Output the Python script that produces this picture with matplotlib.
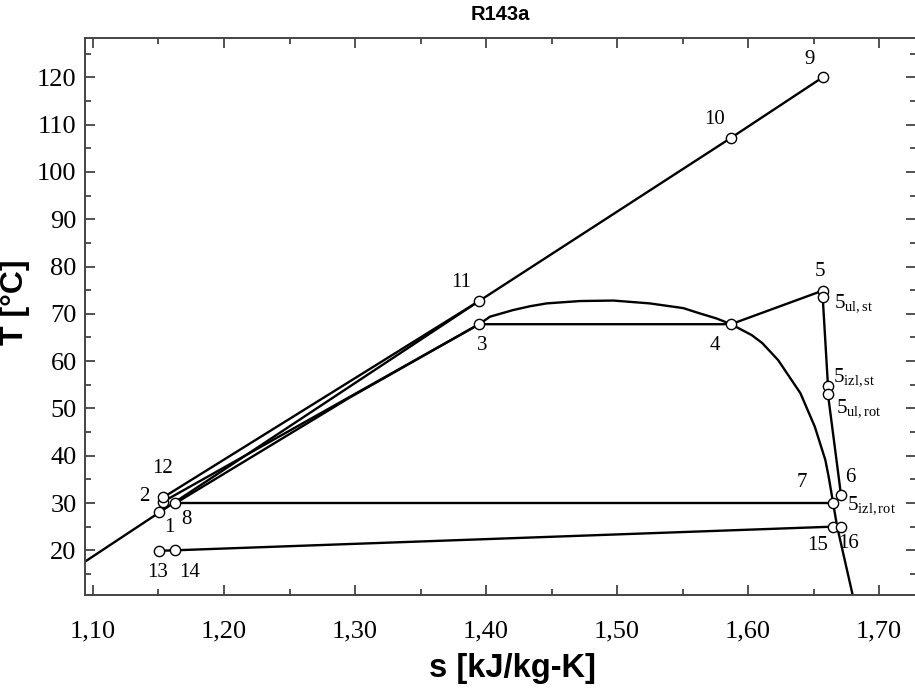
import numpy as np
import matplotlib
matplotlib.use("Agg")
import matplotlib.pyplot as plt
from matplotlib.ticker import MultipleLocator, FuncFormatter

plt.rcParams['mathtext.fontset'] = 'custom'
plt.rcParams['mathtext.rm'] = 'Liberation Serif'
plt.rcParams['mathtext.it'] = 'Liberation Serif:italic'

# saturation dome (from 3 over the top down to below the axis)
dome_s = [1.3947, 1.4031, 1.4208, 1.4336, 1.4463, 1.4718, 1.4972, 1.525,
          1.5506, 1.563, 1.5761, 1.587, 1.6028, 1.6109, 1.6230, 1.6400,
          1.6510, 1.6590, 1.6615, 1.6650, 1.668, 1.679, 1.6808]
dome_T = [67.8, 69.4, 70.8, 71.6, 72.2, 72.7, 72.8, 72.2,
          71.2, 70.1, 69.0, 67.8, 65.5, 63.8, 60.2, 53.2,
          46.1, 39.1, 35.6, 29.9, 25.0, 11.6, 9.4]

# heat source line (from axis edge up to 9)
src_s = [1.0939, 1.1506, 1.3947, 1.587, 1.657]
src_T = [17.6, 28.0, 72.7, 107.2, 120.0]

# other cycle lines
l12_s = [1.1537, 1.3947]
l12_T = [31.2, 72.7]
l2_s = [1.1537, 1.3947]
l2_T = [30.3, 67.8]
liq_s = [1.1626, 1.296, 1.3947]
liq_T = [29.9, 52.3, 67.8]
evap_s = [1.3947, 1.587, 1.657]
evap_T = [67.8, 67.8, 74.9]
exp_s = [1.657, 1.661, 1.661, 1.671]
exp_T = [73.5, 54.8, 53.0, 31.6]
cond_s = [1.1626, 1.665]
cond_T = [29.9, 29.9]
cool_s = [1.1506, 1.1626, 1.665, 1.671]
cool_T = [19.9, 20.0, 25.0, 25.0]

# state points (markers)
pt_s = [1.1506, 1.1537, 1.3947, 1.587, 1.657, 1.657, 1.661, 1.661, 1.671,
        1.665, 1.1626, 1.657, 1.587, 1.3947, 1.1537, 1.1506, 1.1626, 1.665, 1.671]
pt_T = [28.0, 30.3, 67.8, 67.8, 74.9, 73.5, 54.8, 53.0, 31.6,
        29.9, 29.9, 120.0, 107.2, 72.7, 31.2, 19.9, 20.0, 25.0, 25.0]

# labels: text, s, T, horizontal alignment
labels = [
    ("9", 1.647, 123.7, "center"), ("10", 1.5748, 111.0, "center"),
    ("11", 1.381, 76.7, "center"), ("3", 1.397, 63.4, "center"),
    ("4", 1.5748, 63.4, "center"), ("5", 1.655, 78.9, "center"),
    (r"$\mathregular{5_{ul,st}}$", 1.6655, 72.2, "left"),
    (r"$\mathregular{5_{izl,st}}$", 1.6652, 56.6, "left"),
    (r"$\mathregular{5_{ul,rot}}$", 1.6675, 50.0, "left"),
    ("6", 1.678, 35.3, "center"), ("7", 1.641, 34.3, "center"),
    (r"$\mathregular{5_{izl,rot}}$", 1.6752, 29.6, "left"),
    ("15", 1.653, 21.1, "center"), ("16", 1.677, 21.5, "center"),
    ("12", 1.1534, 37.4, "center"), ("2", 1.139, 31.3, "center"),
    ("1", 1.158, 24.9, "center"), ("8", 1.171, 26.6, "center"),
    ("13", 1.149, 15.4, "center"), ("14", 1.174, 15.4, "center"),
]

fig = plt.figure(figsize=(9.15, 6.89), dpi=100)
ax = fig.add_axes([85 / 915, 1 - 595 / 689, 831 / 915, 557 / 689])

lw = 1.7
for xs, ys in [(dome_s, dome_T), (src_s, src_T), (l12_s, l12_T), (l2_s, l2_T),
               (liq_s, liq_T), (evap_s, evap_T), (exp_s, exp_T),
               (cond_s, cond_T), (cool_s, cool_T)]:
    ax.plot(xs, ys, color='black', lw=lw, solid_joinstyle='round',
            solid_capstyle='round')

ax.plot(pt_s, pt_T, ls='none', marker='o', ms=7.4, mfc='white', mec='black',
        mew=1.0, zorder=5)

for txt, s, t, ha in labels:
    ax.text(s, t, txt, ha=ha, va='center', fontsize=15,
            family='Liberation Serif', zorder=6)

ax.set_xlim(1.0939, 1.7282)
ax.set_ylim(10.55, 128.31)
ax.xaxis.set_major_locator(MultipleLocator(0.1))
ax.xaxis.set_minor_locator(MultipleLocator(0.05))
ax.yaxis.set_major_locator(MultipleLocator(10))
ax.yaxis.set_minor_locator(MultipleLocator(5))
ax.xaxis.set_major_formatter(FuncFormatter(lambda v, p: f"{v:.2f}".replace('.', ',')))
ax.yaxis.set_major_formatter(FuncFormatter(lambda v, p: f"{v:.0f}"))

ax.tick_params(which='both', direction='in', top=True, right=True,
               color='#444444', width=1.3)
ax.tick_params(which='major', length=7, labelsize=19)
ax.tick_params(which='minor', length=4)
ax.tick_params(axis='x', which='major', pad=18)
ax.tick_params(axis='y', which='major', pad=6)
for lab in ax.get_xticklabels() + ax.get_yticklabels():
    lab.set_family('Liberation Serif')
for sp in ax.spines.values():
    sp.set_color('#444444')
    sp.set_linewidth(1.4)

ax.set_xlabel("s [kJ/kg-K]", fontsize=23.5, fontweight='bold',
              family='Liberation Sans')
ax.xaxis.set_label_coords(0.515, -0.105)
ax.set_ylabel("T [°C]", fontsize=23, fontweight='bold',
              family='Liberation Sans')
ax.yaxis.set_label_coords(-0.066, 0.525)
ax.set_title("R143a", fontsize=14.5, fontweight='bold',
             family='Liberation Sans', pad=13)

fig.savefig("out.png", dpi=100)
